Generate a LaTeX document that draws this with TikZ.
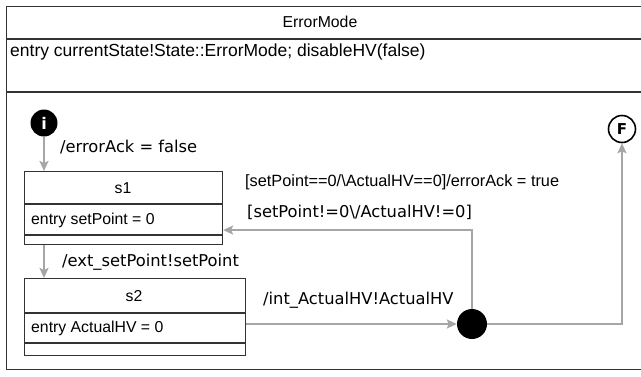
\documentclass[tikz,border=0pt]{standalone}
\usepackage{fontspec}
\setmainfont{Liberation Sans}
\newfontfamily\labelfont{DejaVu Sans}
\usetikzlibrary{arrows.meta,positioning}

\begin{document}
\begin{tikzpicture}[x=1pt,y=-1pt,
  box/.style={draw=black!80,line width=1.1pt,rectangle,inner sep=0pt,anchor=north west},
  divider/.style={draw=black!80,line width=1.1pt},
  trans/.style={draw=black!35,line width=2.6pt,-{Stealth[length=10pt,width=9pt,inset=2pt]}},
  lbl/.style={font=\labelfont\fontsize{16.3}{19}\selectfont,anchor=west,inner sep=0pt},
  txt/.style={font=\fontsize{15.8}{19}\selectfont,inner sep=0pt}]

  \clip (0,0) rectangle (641,376);

  % composite state
  \node[box,minimum width=640pt,minimum height=363pt] (mode) at (6,6) {};
  \draw[divider] ([yshift=-33pt]mode.north west) -- ([yshift=-33pt]mode.north east);
  \draw[divider] ([yshift=-86pt]mode.north west) -- ([yshift=-86pt]mode.north east);
  \node[txt] (modename) at (320,22) {ErrorMode};
  \node[txt,anchor=west,font=\fontsize{17.5}{20}\selectfont] (modeentry) at (10,52)
        {entry currentState!State::ErrorMode; disableHV(false)};

  % substates
  \node[box,minimum width=198pt,minimum height=73pt] (s1) at (24,171) {};
  \draw[divider] ([yshift=-33pt]s1.north west) -- ([yshift=-33pt]s1.north east);
  \draw[divider] ([yshift=-64pt]s1.north west) -- ([yshift=-64pt]s1.north east);
  \node[txt] (s1name) at (123,188) {s1};
  \node[txt,anchor=west] (s1entry) at (31,220) {entry setPoint = 0};

  \node[box,minimum width=221pt,minimum height=77pt] (s2) at (24,278) {};
  \draw[divider] ([yshift=-35pt]s2.north west) -- ([yshift=-35pt]s2.north east);
  \draw[divider] ([yshift=-65pt]s2.north west) -- ([yshift=-65pt]s2.north east);
  \node[txt] (s2name) at (134,296) {s2};
  \node[txt,anchor=west] (s2entry) at (31,328) {entry ActualHV = 0};

  % pseudo states
  \node[circle,fill=black,minimum size=27pt,inner sep=0pt,text=white,
        font=\labelfont\bfseries\fontsize{16}{18}\selectfont] (init) at (44,123) {i};
  \node[circle,draw=black,line width=1.6pt,fill=white,minimum size=27pt,inner sep=0pt,
        font=\labelfont\bfseries\fontsize{15}{17}\selectfont] (fin) at (622,129) {F};
  \node[circle,fill=black,minimum size=30pt,inner sep=0pt] (junc) at (472,324) {};

  % transitions
  \draw[trans] (init) -- (init |- s1.north);
  \draw[trans] (s1.south -| init) -- (s2.north -| init);
  \draw[trans] (s2.east |- junc) -- (junc);
  \draw[trans] (junc) |- ([yshift=-22pt]s1.east);
  \draw[trans] (junc) -| (fin);

  \node[lbl] (l_init) at (60,147) {/errorAck = false};
  \node[lbl] (l_s1s2) at (62,262) {/ext\_setPoint!setPoint};
  \node[lbl] (l_s2j) at (263,300) {/int\_ActualHV!ActualHV};
  \node[lbl] (l_js1) at (247,212) {[setPoint!=0\textbackslash/ActualHV!=0]};
  \node[txt,anchor=west,font=\fontsize{16.3}{19}\selectfont] (l_jfin) at (245,182)
        {[setPoint==0/\textbackslash ActualHV==0]/errorAck = true};

\end{tikzpicture}
\end{document}
